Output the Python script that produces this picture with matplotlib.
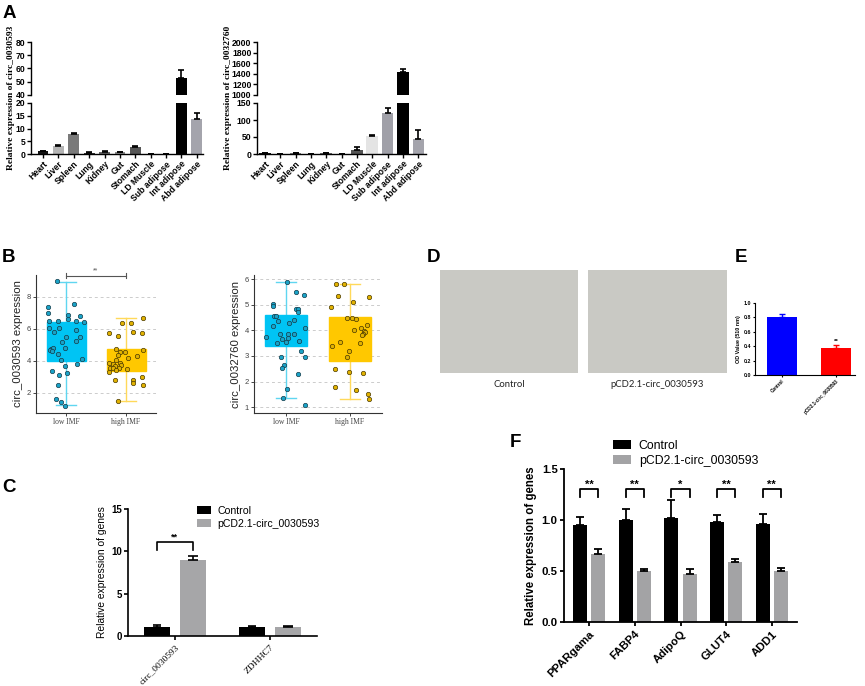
import matplotlib
matplotlib.use('Agg')
import matplotlib.pyplot as plt
import numpy as np

plt.rcParams['font.family'] = ['Liberation Sans', 'DejaVu Sans']
SERIF = ['Liberation Serif', 'DejaVu Serif']

W, H = 865, 686
fig = plt.figure(figsize=(W / 100, H / 100), dpi=100)


def pax(x0, y0, x1, y1):
    return fig.add_axes([x0 / W, 1 - y1 / H, (x1 - x0) / W, (y1 - y0) / H])


# ---------------- data ----------------
tissues = ['Heart', 'Liver', 'Spleen', 'Lung', 'Kidney', 'Gut', 'Stomach',
           'LD Muscle', 'Sub adipose', 'Int adipose', 'Abd adipose']
a1_vals = [1.0, 3.2, 8.0, 0.5, 0.8, 0.7, 2.8, 0.1, 0.1, 52.5, 13.9]
a1_err = [0.2, 0.3, 0.3, 0.2, 0.2, 0.2, 0.3, 0.05, 0.05, 6.0, 2.2]
a2_vals = [2.0, 0.5, 3.0, 0.3, 2.0, 0.5, 12.0, 53.0, 120.0, 1434.0, 44.0]
a2_err = [1.0, 0.3, 1.0, 0.2, 1.0, 0.3, 8.0, 3.0, 15.0, 56.0, 27.0]
tissue_colors = ['#111111', '#b4b4b4', '#7a7a7a', '#333333', '#666666', '#8c8c8c',
                 '#555555', '#e4e4e4', '#a0a0a8', '#000000', '#a4a4ac']

b_cats = ['low IMF', 'high IMF']
# circ_0030593
b1_low = [8.96, 7.54, 7.38, 6.96, 6.85, 6.63, 6.81, 6.46, 6.46, 6.50, 6.44, 6.06, 6.02,
          5.77, 5.90, 5.46, 5.46, 5.17, 5.21, 4.75, 4.80, 4.69, 4.62, 4.79, 4.42, 4.06,
          4.13, 3.79, 3.69, 3.38, 3.23, 3.10, 2.50, 1.60, 1.42, 1.21]
b1_low_jit = [-0.15, 0.14, -0.30, -0.30, 0.04, 0.04, 0.23, -0.28, -0.13, 0.17, 0.30, -0.28,
              -0.11, -0.20, 0.16, 0.00, 0.23, -0.06, 0.16, -0.25, -0.22, -0.27, -0.23, -0.02,
              -0.14, -0.09, 0.27, 0.18, -0.02, -0.24, 0.02, -0.12, -0.13, -0.16, -0.09, -0.01]
b1_high = [5.73, 5.56, 6.35, 6.35, 6.69, 5.79, 5.73, 4.75, 4.58, 4.54, 4.65, 4.38, 4.33,
           4.17, 4.04, 3.85, 3.79, 3.85, 3.69, 3.75, 3.54, 3.54, 3.56, 3.52, 3.40, 3.33,
           2.81, 3.02, 2.81, 2.60, 2.50, 1.48]
b1_high_jit = [-0.29, -0.14, -0.07, 0.08, 0.29, 0.12, 0.27, -0.16, -0.10, -0.02, 0.29, -0.14,
               0.19, 0.04, -0.16, -0.28, -0.22, -0.10, -0.19, -0.08, -0.27, -0.22, -0.12,
               0.01, -0.17, -0.29, -0.18, 0.26, 0.12, 0.11, 0.28, -0.14]
b1_box = [(4.0, 6.45, 1.25, 8.9), (3.35, 4.72, 1.5, 6.65)]   # q1, q3, low whisker, high whisker
# circ_0032760
b2_low = [5.88, 5.51, 5.39, 5.03, 4.94, 4.55, 4.55, 4.83, 4.83, 4.71, 4.35, 4.18, 4.39,
          4.27, 4.09, 3.75, 3.87, 3.86, 3.84, 3.69, 3.66, 3.52, 3.55, 3.57, 3.21, 2.97,
          2.95, 2.66, 2.52, 2.30, 1.70, 1.36, 1.09]
b2_low_jit = [0.02, 0.15, 0.28, -0.20, -0.20, -0.19, -0.16, 0.15, 0.19, 0.19, -0.12, -0.21,
              0.12, 0.05, 0.29, -0.31, -0.10, 0.03, 0.13, 0.03, -0.07, -0.14, 0.00, 0.21,
              0.24, -0.08, 0.30, -0.03, -0.06, 0.18, 0.01, -0.05, 0.30]
b2_high = [5.82, 5.82, 5.34, 5.10, 5.31, 4.92, 4.49, 4.49, 4.45, 4.22, 4.09, 4.01, 3.99,
           3.92, 3.87, 3.82, 3.56, 3.49, 3.39, 3.21, 2.96, 2.47, 2.38, 2.34, 1.78, 1.68,
           1.53, 1.31]
b2_high_jit = [-0.22, -0.09, -0.19, 0.05, 0.30, -0.30, -0.04, 0.03, 0.09, 0.26, 0.17, 0.06,
               0.22, 0.24, 0.20, 0.19, -0.15, 0.15, -0.28, -0.01, -0.04, -0.23, -0.02, 0.20,
               -0.23, 0.09, 0.28, 0.30]
b2_box = [(3.4, 4.6, 1.35, 5.88), (2.8, 4.52, 1.3, 5.8)]

c_genes = ['circ_0030593', 'ZDHHC7']
c_ctrl = [1.1, 1.05]
c_ctrl_err = [0.15, 0.08]
c_pcd = [9.0, 1.1]
c_pcd_err = [0.45, 0.1]

d_labels = ['Control', 'pCD2.1-circ_0030593']

e_groups = ['Control', 'pCD2.1-circ_0030593']
e_vals = [0.80, 0.38]
e_err = [0.05, 0.03]

f_genes = ['PPARgama', 'FABP4', 'AdipoQ', 'GLUT4', 'ADD1']
f_ctrl = [0.95, 1.00, 1.02, 0.98, 0.96]
f_ctrl_err = [0.08, 0.11, 0.18, 0.07, 0.10]
f_pcd = [0.667, 0.50, 0.47, 0.585, 0.50]
f_pcd_err = [0.05, 0.02, 0.05, 0.035, 0.03]
f_sig = ['**', '**', '*', '**', '**']

legend_labels = ['Control', 'pCD2.1-circ_0030593']

# ---------------- panel letters ----------------
for letter, x, y in [('A', 3, 18), ('B', 2, 262), ('C', 2, 492), ('D', 427, 262),
                     ('E', 735, 262), ('F', 510, 447)]:
    fig.text(x / W, 1 - y / H, letter, fontsize=13.5, fontweight='bold', va='baseline')


# ---------------- panel A ----------------
def panel_a(x0, x1, vals, errs, top_lim, top_ticks, bot_lim, bot_ticks, xlim, width, ylabel, ylx):
    up = pax(x0, 42, x1, 95)
    lo = pax(x0, 103, x1, 154)
    pos = np.arange(len(tissues))
    for ax, lim, ticks in [(up, top_lim, top_ticks), (lo, bot_lim, bot_ticks)]:
        ax.bar(pos, vals, width=width, color=tissue_colors, zorder=2)
        for p, v, e in zip(pos, vals, errs):
            ax.errorbar(p, v, yerr=[[0], [e]], fmt='none', ecolor='black',
                        elinewidth=1.2, capsize=2.2, capthick=1.2, zorder=3)
        ax.set_ylim(*lim)
        ax.set_yticks(ticks)
        ax.set_xlim(*xlim)
        for s in ['top', 'right']:
            ax.spines[s].set_visible(False)
        ax.spines['left'].set_linewidth(1.0)
        ax.tick_params(axis='y', length=3, width=1.0, pad=1, labelsize=6.2)
        for t in ax.get_yticklabels():
            t.set_fontweight('bold')
    up.spines['bottom'].set_visible(False)
    up.set_xticks([])
    lo.spines['bottom'].set_linewidth(1.0)
    lo.set_xticks(pos)
    lo.set_xticklabels(tissues, rotation=45, ha='right', rotation_mode='anchor',
                       fontsize=6.2, fontweight='bold')
    lo.tick_params(axis='x', length=3, width=1.0, pad=1)
    fig.text(ylx / W, 1 - 98 / H, ylabel, rotation=90, ha='center', va='center',
             family=SERIF, fontweight='bold', fontsize=6.8)


panel_a(31, 203, a1_vals, a1_err, (40, 80), [40, 50, 60, 70, 80], (0, 20), [0, 5, 10, 15, 20],
        (-0.78, 10.4), 0.7, 'Relative expression of circ_0030593', 11)
panel_a(257, 426, a2_vals, a2_err, (1000, 2000), [1000, 1200, 1400, 1600, 1800, 2000],
        (0, 150), [0, 50, 100, 150], (-0.52, 10.5), 0.76,
        'Relative expression of circ_0032760', 228)


# ---------------- panel B ----------------
def panel_b(x0, x1, box, low, lowj, high, highj, ylim, yticks, ylabel):
    ax = pax(x0, 275, x1, 413)
    stats = []
    for (q1, q3, wl, wh), arr in zip(box, [low, high]):
        stats.append(dict(q1=q1, q3=q3, whislo=wl, whishi=wh, med=float(np.median(arr)), fliers=[]))
    res = ax.bxp(stats, positions=[0, 1], widths=0.65, patch_artist=True, showfliers=False,
                 manage_ticks=False)
    fills = ['#00c4f4', '#ffc800']
    wcol = ['#5fd6f0', '#ffd95a']
    for i in range(2):
        res['boxes'][i].set_facecolor(fills[i])
        res['boxes'][i].set_edgecolor(fills[i])
        res['boxes'][i].set_zorder(2)
        res['medians'][i].set_visible(False)
        for w in res['whiskers'][2 * i:2 * i + 2] + res['caps'][2 * i:2 * i + 2]:
            w.set_color(wcol[i])
            w.set_linewidth(1.0)
            w.set_zorder(1.5)
    ax.scatter(np.array(lowj), low, s=10, c='#1aa3c8', edgecolors='#143c4a', linewidths=0.5, zorder=4)
    ax.scatter(1 + np.array(highj), high, s=10, c='#e2b200', edgecolors='#4a3a00', linewidths=0.5, zorder=4)
    ax.set_xlim(-0.5, 1.5)
    ax.set_ylim(*ylim)
    ax.set_yticks(yticks)
    ax.yaxis.grid(True, linestyle=(0, (3, 3)), color='#cccccc', linewidth=0.7)
    ax.set_axisbelow(True)
    for s in ['top', 'right']:
        ax.spines[s].set_visible(False)
    for s in ['left', 'bottom']:
        ax.spines[s].set_color('#333333')
        ax.spines[s].set_linewidth(0.8)
    ax.set_xticks([0, 1])
    ax.set_xticklabels(b_cats, family=SERIF, fontsize=5.5, color='#333333')
    ax.tick_params(axis='both', length=2, width=0.7, pad=1.5, labelsize=5.5, colors='#444444')
    for t in ax.get_xticklabels():
        t.set_family(SERIF)
    ax.set_ylabel(ylabel, fontsize=8.2, labelpad=3, color='#222222')
    return ax


axb1 = panel_b(36, 156, b1_box, b1_low, b1_low_jit, b1_high, b1_high_jit, (0.75, 9.35),
               [2, 4, 6, 8], 'circ_0030593 expression')
axb1.plot([0, 1], [9.3, 9.3], color='#555555', lw=0.8, clip_on=False)
for xx in [0, 1]:
    axb1.plot([xx, xx], [9.15, 9.45], color='#555555', lw=0.8, clip_on=False)
axb1.text(0.5, 9.38, '**', ha='center', va='bottom', fontsize=5, color='#555555')
panel_b(254, 382, b2_box, b2_low, b2_low_jit, b2_high, b2_high_jit, (0.77, 6.16),
        [1, 2, 3, 4, 5, 6], 'circ_0032760 expression')


# ---------------- grouped bar helper ----------------
def style_bar_axes(ax, lw):
    for s in ['top', 'right']:
        ax.spines[s].set_visible(False)
    for s in ['left', 'bottom']:
        ax.spines[s].set_linewidth(lw)


def bracket(ax, x1, x2, y, h, txt, fs, lw):
    ax.plot([x1, x1, x2, x2], [y - h, y, y, y - h], color='black', lw=lw)
    ax.text((x1 + x2) / 2, y, txt, ha='center', va='bottom', fontsize=fs, fontweight='bold')


# ---------------- panel C ----------------
axc = pax(128, 509, 317, 636)
pc = np.arange(len(c_genes))
bw, off = 0.27, 0.19
axc.bar(pc - off, c_ctrl, bw, color='black', label=legend_labels[0])
axc.bar(pc + off, c_pcd, bw, color='#a6a6a8', label=legend_labels[1])
axc.errorbar(pc - off, c_ctrl, yerr=[np.zeros(2), c_ctrl_err], fmt='none', ecolor='black',
             elinewidth=1.2, capsize=3, capthick=1.2)
axc.errorbar(pc + off, c_pcd, yerr=[np.zeros(2), c_pcd_err], fmt='none', ecolor='black',
             elinewidth=1.2, capsize=3.5, capthick=1.2)
axc.set_xlim(-0.49, 1.49)
axc.set_ylim(0, 15)
axc.set_yticks([0, 5, 10, 15])
style_bar_axes(axc, 1.2)
axc.tick_params(axis='y', length=3, width=1.2, labelsize=7, pad=1.5)
for t in axc.get_yticklabels():
    t.set_fontweight('bold')
axc.set_xticks(pc)
axc.set_xticklabels(c_genes, rotation=45, ha='right', rotation_mode='anchor', family=SERIF,
                    fontsize=6.8)
axc.tick_params(axis='x', length=3, width=1.2, pad=2)
axc.set_ylabel('Relative expression of genes', fontsize=7.4, labelpad=3)
bracket(axc, -off, off, 11.1, 0.95, '**', 6.5, 1.2)
axc.legend(loc='upper left', bbox_to_anchor=(197 / W, 1 - 506 / H), bbox_transform=fig.transFigure,
           frameon=False, fontsize=7.6, handlelength=1.35, handleheight=0.8, handletextpad=0.6,
           labelspacing=0.25, borderpad=0, borderaxespad=0)

# ---------------- panel D ----------------
for (x0, x1), lab in zip([(440, 578), (588, 727)], d_labels):
    axd = pax(x0, 270, x1, 373)
    axd.set_facecolor('#c9c9c4')
    axd.set_xticks([])
    axd.set_yticks([])
    for s in axd.spines.values():
        s.set_visible(False)
    fig.text((x0 + x1) / 2 / W, 1 - 387 / H, lab, ha='center', va='baseline',
             fontsize=6.8, family=['Lato', 'DejaVu Sans'], color='#222222')

# ---------------- panel E ----------------
axe = pax(755, 303, 855, 375)
pe = np.arange(len(e_groups))
ecols = ['#0000ff', '#ff0000']
axe.bar(pe, e_vals, 0.54, color=ecols)
for p, v, e, c in zip(pe, e_vals, e_err, ecols):
    axe.errorbar(p, v, yerr=[[0], [e]], fmt='none', ecolor=c, elinewidth=1.0, capsize=2.5, capthick=1.0)
axe.text(1, 0.43, '**', ha='center', va='bottom', fontsize=4.5, fontweight='bold')
axe.set_xlim(-0.5, 1.35)
axe.set_ylim(0, 1.0)
axe.set_yticks([0, 0.2, 0.4, 0.6, 0.8, 1.0])
axe.set_yticklabels(['%.1f' % v for v in [0, 0.2, 0.4, 0.6, 0.8, 1.0]])
style_bar_axes(axe, 0.8)
axe.tick_params(axis='both', length=1.5, width=0.8, labelsize=3.8, pad=1)
for t in axe.get_yticklabels():
    t.set_fontweight('bold')
axe.set_xticks(pe)
axe.set_xticklabels(e_groups, rotation=45, ha='right', rotation_mode='anchor', fontsize=3.3,
                    fontweight='bold')
axe.set_ylabel('OD Value (510 nm)', fontsize=3.9, fontweight='bold', labelpad=2)

# ---------------- panel F ----------------
axf = pax(564, 469, 797, 622)
pf = np.arange(len(f_genes))
fw, fo = 0.31, 0.2
axf.bar(pf - fo, f_ctrl, fw, color='black', label=legend_labels[0])
axf.bar(pf + fo, f_pcd, fw, color='#a3a3a5', label=legend_labels[1])
axf.errorbar(pf - fo, f_ctrl, yerr=[np.zeros(5), f_ctrl_err], fmt='none', ecolor='black',
             elinewidth=1.3, capsize=2.8, capthick=1.3)
axf.errorbar(pf + fo, f_pcd, yerr=[np.zeros(5), f_pcd_err], fmt='none', ecolor='black',
             elinewidth=1.3, capsize=2.8, capthick=1.3)
for p, s in zip(pf, f_sig):
    bracket(axf, p - fo, p + fo, 1.30, 0.075, s, 8, 1.3)
axf.set_xlim(-0.55, 4.55)
axf.set_ylim(0, 1.5)
axf.set_yticks([0, 0.5, 1.0, 1.5])
axf.set_yticklabels(['%.1f' % v for v in [0, 0.5, 1.0, 1.5]])
style_bar_axes(axf, 1.3)
axf.tick_params(axis='y', length=3, width=1.3, labelsize=8.2, pad=1.5)
for t in axf.get_yticklabels():
    t.set_fontweight('bold')
axf.set_xticks(pf)
axf.set_xticklabels(f_genes, rotation=45, ha='right', rotation_mode='anchor', fontsize=8.2,
                    fontweight='bold')
axf.tick_params(axis='x', length=3, width=1.3, pad=2)
axf.set_ylabel('Relative expression of genes', fontsize=8.3, fontweight='bold', labelpad=3)
axf.legend(loc='upper left', bbox_to_anchor=(613 / W, 1 - 440 / H), bbox_transform=fig.transFigure,
           frameon=False, fontsize=8.8, handlelength=1.5, handleheight=0.8, handletextpad=0.6,
           labelspacing=0.25, borderpad=0, borderaxespad=0)

fig.savefig('out.png', dpi=100)
